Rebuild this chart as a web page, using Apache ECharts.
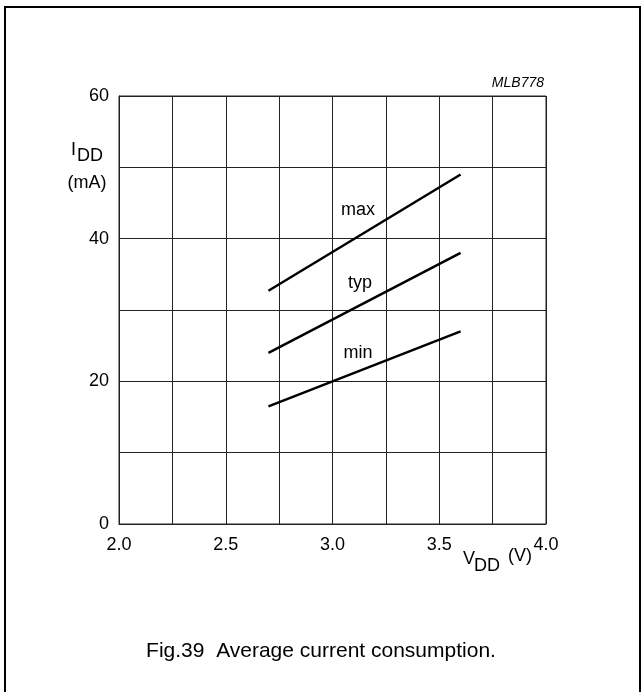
<!DOCTYPE html>
<html>
<head>
<meta charset="utf-8">
<style>
  html, body { margin: 0; padding: 0; background: #fff; }
  #chart { width: 643px; height: 692px; }
</style>
<script src="https://cdn.jsdelivr.net/npm/echarts@6/dist/echarts.min.js"></script>
</head>
<body>
<div id="chart"></div>
<script>
// supply voltage (V) and current (mA)
const voltage = [2.7, 3.6]
const maxCurrent = [32.7, 49.0]
const typCurrent = [24.0, 38.0]
const minCurrent = [16.5, 27.0]

const xTicks = ['2.0', '2.5', '3.0', '3.5', '4.0']
const yTicks = ['0', '20', '40', '60']

const font = 'Arial, "Liberation Sans", sans-serif'

function pairs(ys) {
  return voltage.map((v, i) => [v, ys[i]])
}

function lineSeries(name, ys) {
  return {
    name: name,
    type: 'line',
    data: pairs(ys),
    symbol: 'none',
    silent: true,
    lineStyle: { color: '#000', width: 2.5 },
    animation: false
  }
}

function txt(x, y, text, size, extra) {
  return {
    type: 'text',
    x: x,
    y: y,
    style: Object.assign({
      text: text,
      font: size + 'px ' + font,
      fill: '#000',
      textAlign: 'left',
      textVerticalAlign: 'middle'
    }, extra || {})
  }
}

const chart = echarts.init(document.getElementById('chart'))

chart.setOption({
  backgroundColor: '#fff',
  animation: false,
  grid: {
    left: 119,
    right: 97,
    top: 96,
    bottom: 168,
    show: true,
    borderColor: '#222',
    borderWidth: 1
  },
  xAxis: {
    type: 'value',
    min: 2,
    max: 4,
    interval: 0.25,
    axisLine: { show: true, lineStyle: { color: '#222', width: 1 } },
    axisTick: { show: false },
    splitLine: { show: true, lineStyle: { color: '#222', width: 1 } },
    axisLabel: {
      margin: 12,
      fontSize: 18,
      fontFamily: font,
      color: '#000',
      formatter: v => {
        const s = v.toFixed(1)
        return xTicks.includes(s) && Math.abs(v * 2 - Math.round(v * 2)) < 1e-6 ? s : ''
      }
    }
  },
  yAxis: {
    type: 'value',
    min: 0,
    max: 60,
    interval: 10,
    axisLine: { show: true, lineStyle: { color: '#222', width: 1 } },
    axisTick: { show: false },
    splitLine: { show: true, lineStyle: { color: '#222', width: 1 } },
    axisLabel: {
      margin: 10,
      fontSize: 18,
      fontFamily: font,
      color: '#000',
      formatter: v => yTicks.includes(String(v)) ? String(v) : ''
    }
  },
  series: [
    lineSeries('max', maxCurrent),
    lineSeries('typ', typCurrent),
    lineSeries('min', minCurrent)
  ],
  graphic: [
    // outer frame
    {
      type: 'rect',
      shape: { x: 5, y: 7, width: 635, height: 700 },
      style: { fill: 'none', stroke: '#000', lineWidth: 2 }
    },
    txt(358, 210, 'max', 18, { textAlign: 'center' }),
    txt(360, 283, 'typ', 18, { textAlign: 'center' }),
    txt(358, 353, 'min', 18, { textAlign: 'center' }),
    txt(544, 83, 'MLB778', 14, { textAlign: 'right', font: 'italic 14px ' + font }),
    // y axis name
    txt(71, 150, 'I', 18),
    txt(77, 156, 'DD', 18),
    txt(87, 183, '(mA)', 18, { textAlign: 'center' }),
    // x axis name
    txt(463, 559, 'V', 18),
    txt(474, 566, 'DD', 18),
    txt(508, 556, '(V)', 18),
    // caption
    txt(321, 651, 'Fig.39  Average current consumption.', 21, { textAlign: 'center' })
  ]
})
</script>
</body>
</html>
